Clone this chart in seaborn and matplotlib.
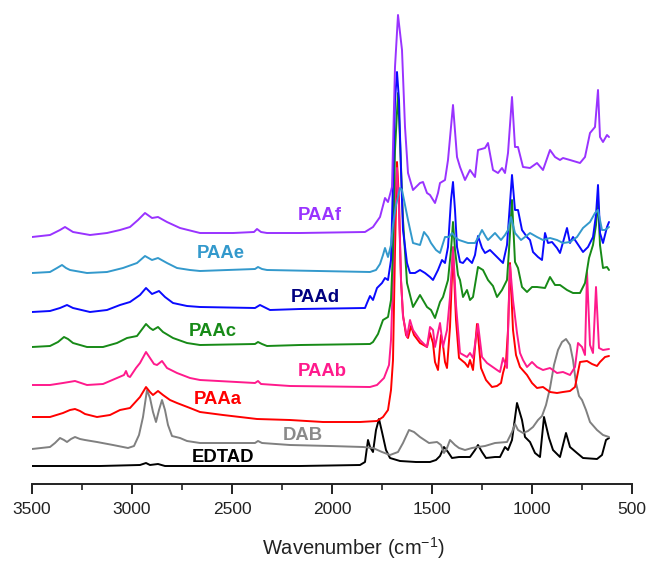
import matplotlib
matplotlib.use("Agg")
import matplotlib.pyplot as plt
import seaborn as sns
import pandas as pd
from matplotlib.ticker import MultipleLocator

# ---- data: (wavenumber cm-1, stacked absorbance a.u.) ----
EDTAD = [(3500, 0.18), (3160, 0.18), (2960, 0.19), (2930, 0.21), (2910, 0.19), (2870, 0.20),
         (2835, 0.18), (2410, 0.18), (2160, 0.18), (1860, 0.19), (1835, 0.22), (1820, 0.44),
         (1810, 0.37), (1795, 0.32), (1780, 0.54), (1765, 0.65), (1750, 0.52), (1730, 0.34),
         (1710, 0.26), (1660, 0.23), (1580, 0.22), (1510, 0.22), (1480, 0.24), (1460, 0.28),
         (1440, 0.37), (1420, 0.32), (1400, 0.26), (1365, 0.27), (1310, 0.27), (1285, 0.34),
         (1270, 0.39), (1250, 0.32), (1230, 0.26), (1185, 0.27), (1160, 0.27), (1135, 0.37),
         (1120, 0.34), (1100, 0.44), (1075, 0.81), (1050, 0.64), (1035, 0.47), (1010, 0.42),
         (985, 0.31), (960, 0.27), (940, 0.67), (915, 0.46), (895, 0.34), (860, 0.27),
         (830, 0.51), (810, 0.37), (775, 0.31), (745, 0.26), (675, 0.25), (650, 0.29),
         (630, 0.44), (615, 0.46)]

DAB = [(3500, 0.35), (3410, 0.37), (3385, 0.41), (3360, 0.46), (3340, 0.44), (3325, 0.42),
       (3305, 0.45), (3285, 0.47), (3260, 0.45), (3235, 0.44), (3175, 0.42), (3095, 0.39),
       (3020, 0.36), (2990, 0.38), (2965, 0.49), (2945, 0.67), (2925, 0.94), (2910, 0.86),
       (2895, 0.72), (2880, 0.62), (2865, 0.74), (2850, 0.84), (2835, 0.74), (2820, 0.59),
       (2800, 0.48), (2760, 0.46), (2725, 0.43), (2660, 0.41), (2385, 0.41), (2370, 0.43),
       (2350, 0.41), (2210, 0.39), (2010, 0.38), (1845, 0.37), (1795, 0.36), (1750, 0.32),
       (1710, 0.29), (1670, 0.32), (1645, 0.41), (1615, 0.54), (1590, 0.52), (1560, 0.47),
       (1515, 0.41), (1475, 0.42), (1455, 0.39), (1440, 0.31), (1425, 0.36), (1410, 0.44),
       (1385, 0.39), (1365, 0.36), (1335, 0.34), (1300, 0.36), (1270, 0.37), (1235, 0.38),
       (1185, 0.41), (1125, 0.42), (1100, 0.52), (1085, 0.60), (1070, 0.54), (1045, 0.51),
       (1020, 0.53), (995, 0.57), (970, 0.64), (950, 0.68), (930, 0.79), (910, 0.96),
       (890, 1.19), (870, 1.34), (850, 1.42), (830, 1.45), (810, 1.39), (795, 1.24),
       (780, 1.01), (765, 0.88), (750, 0.84), (730, 0.74), (710, 0.62), (675, 0.54),
       (645, 0.49), (615, 0.47)]

PAAa = [(3500, 0.67), (3410, 0.67), (3345, 0.71), (3310, 0.74), (3285, 0.75), (3260, 0.73),
        (3235, 0.70), (3175, 0.67), (3110, 0.69), (3060, 0.74), (3010, 0.76), (2960, 0.87),
        (2930, 0.97), (2910, 0.92), (2895, 0.89), (2870, 0.93), (2845, 0.89), (2810, 0.84),
        (2775, 0.81), (2710, 0.76), (2660, 0.72), (2545, 0.69), (2375, 0.65), (2210, 0.64),
        (2045, 0.62), (1860, 0.62), (1775, 0.63), (1745, 0.67), (1720, 0.74), (1705, 0.94),
        (1695, 1.24), (1685, 2.34), (1675, 3.22), (1665, 2.84), (1655, 2.04), (1645, 1.69),
        (1630, 1.49), (1620, 1.46), (1605, 1.58), (1590, 1.49), (1560, 1.41), (1525, 1.37),
        (1510, 1.51), (1495, 1.41), (1485, 1.22), (1470, 1.14), (1455, 1.49), (1445, 1.39),
        (1435, 1.22), (1425, 1.16), (1410, 1.57), (1395, 2.34), (1380, 1.64), (1365, 1.26),
        (1335, 1.21), (1320, 1.17), (1310, 1.24), (1295, 1.14), (1275, 1.60), (1255, 1.16),
        (1230, 1.04), (1200, 0.97), (1175, 0.98), (1155, 1.01), (1145, 1.11), (1130, 1.22),
        (1120, 1.54), (1110, 2.21), (1095, 1.54), (1080, 1.29), (1060, 1.17), (1025, 1.09),
        (1000, 1.01), (975, 0.96), (945, 0.97), (910, 0.92), (875, 0.91), (845, 0.92),
        (810, 0.93), (785, 0.97), (770, 1.12), (760, 1.22), (725, 1.23), (700, 1.20),
        (675, 1.18), (660, 1.22), (635, 1.27), (615, 1.28)]

PAAb = [(3500, 0.99), (3410, 0.99), (3345, 1.01), (3285, 1.03), (3225, 0.99), (3145, 1.00),
        (3075, 1.06), (3040, 1.09), (3030, 1.13), (3020, 1.08), (3010, 1.07), (2980, 1.16),
        (2960, 1.21), (2930, 1.32), (2910, 1.26), (2890, 1.20), (2875, 1.19), (2850, 1.23),
        (2825, 1.16), (2775, 1.11), (2710, 1.06), (2660, 1.04), (2385, 1.01), (2370, 1.03),
        (2355, 1.00), (2210, 0.98), (1810, 0.97), (1775, 0.99), (1740, 1.06), (1715, 1.19),
        (1705, 1.44), (1695, 2.04), (1685, 2.84), (1675, 3.16), (1665, 2.74), (1655, 2.04),
        (1645, 1.67), (1625, 1.47), (1610, 1.64), (1595, 1.54), (1560, 1.44), (1525, 1.37),
        (1510, 1.57), (1495, 1.54), (1485, 1.37), (1460, 1.61), (1445, 1.37), (1425, 1.54),
        (1410, 1.87), (1395, 2.37), (1380, 1.79), (1360, 1.31), (1325, 1.27), (1310, 1.31),
        (1295, 1.26), (1270, 1.60), (1250, 1.27), (1225, 1.21), (1175, 1.14), (1160, 1.12),
        (1145, 1.26), (1125, 1.16), (1110, 2.19), (1095, 1.84), (1075, 1.51), (1060, 1.31),
        (1045, 1.24), (1025, 1.17), (1000, 1.22), (975, 1.17), (945, 1.14), (910, 1.16),
        (875, 1.11), (845, 1.12), (810, 1.09), (785, 1.17), (770, 1.41), (750, 1.37),
        (735, 1.29), (725, 2.12), (710, 1.39), (695, 1.31), (680, 1.97), (665, 1.36),
        (645, 1.34), (615, 1.35)]

PAAc = [(3500, 1.37), (3410, 1.38), (3370, 1.42), (3340, 1.47), (3320, 1.45), (3295, 1.41),
        (3225, 1.37), (3145, 1.37), (3075, 1.41), (3025, 1.46), (2975, 1.48), (2930, 1.60),
        (2910, 1.56), (2895, 1.54), (2870, 1.57), (2845, 1.52), (2795, 1.46), (2725, 1.41),
        (2660, 1.39), (2385, 1.40), (2370, 1.42), (2350, 1.40), (2325, 1.38), (2160, 1.39),
        (1810, 1.40), (1795, 1.42), (1770, 1.50), (1745, 1.64), (1720, 1.67), (1705, 1.84),
        (1695, 2.34), (1685, 3.34), (1670, 3.91), (1660, 3.44), (1645, 2.64), (1625, 2.01),
        (1595, 1.77), (1560, 1.89), (1525, 1.77), (1505, 1.74), (1485, 1.66), (1460, 1.82),
        (1445, 1.87), (1420, 2.04), (1405, 2.34), (1395, 2.62), (1385, 2.34), (1370, 2.09),
        (1360, 2.04), (1345, 1.87), (1325, 1.94), (1310, 1.84), (1295, 1.87), (1270, 2.17),
        (1245, 2.14), (1220, 2.04), (1195, 1.98), (1175, 1.87), (1150, 1.94), (1125, 2.04),
        (1115, 2.34), (1100, 2.84), (1085, 2.22), (1070, 2.16), (1050, 1.97), (1025, 1.92),
        (1000, 1.97), (975, 1.97), (935, 1.96), (910, 2.07), (885, 1.99), (860, 1.99),
        (825, 1.94), (795, 1.91), (760, 1.91), (735, 2.01), (715, 2.26), (695, 2.39),
        (680, 2.59), (670, 2.84), (660, 2.39), (645, 2.16), (625, 2.17), (615, 2.14)]

PAAd = [(3500, 1.72), (3410, 1.73), (3360, 1.76), (3325, 1.79), (3295, 1.76), (3210, 1.72),
        (3125, 1.74), (3060, 1.79), (3010, 1.82), (2960, 1.89), (2930, 1.96), (2900, 1.90),
        (2865, 1.93), (2835, 1.87), (2795, 1.81), (2725, 1.78), (2660, 1.77), (2385, 1.76),
        (2360, 1.79), (2310, 1.74), (2160, 1.75), (1835, 1.76), (1825, 1.81), (1810, 1.88),
        (1795, 1.84), (1775, 1.96), (1750, 2.01), (1735, 2.06), (1720, 2.04), (1705, 2.24),
        (1695, 3.04), (1685, 3.84), (1675, 4.12), (1665, 3.84), (1655, 3.14), (1645, 2.54),
        (1625, 2.21), (1610, 2.11), (1585, 2.11), (1560, 2.14), (1535, 2.11), (1510, 2.07),
        (1495, 2.04), (1470, 2.14), (1450, 2.24), (1435, 2.21), (1420, 2.37), (1405, 2.84),
        (1395, 3.02), (1385, 2.74), (1375, 2.37), (1360, 2.22), (1345, 2.21), (1325, 2.26),
        (1300, 2.21), (1285, 2.29), (1270, 2.48), (1250, 2.36), (1235, 2.31), (1210, 2.34),
        (1175, 2.27), (1145, 2.21), (1125, 2.39), (1110, 2.81), (1100, 3.09), (1085, 2.74),
        (1070, 2.74), (1050, 2.54), (1025, 2.47), (1010, 2.44), (995, 2.32), (970, 2.27),
        (950, 2.24), (935, 2.51), (920, 2.41), (900, 2.42), (875, 2.36), (860, 2.31),
        (825, 2.56), (810, 2.41), (795, 2.47), (775, 2.41), (745, 2.32), (720, 2.37),
        (695, 2.47), (680, 2.69), (670, 2.99), (660, 2.51), (645, 2.41), (625, 2.57),
        (615, 2.62)]

PAAe = [(3500, 2.11), (3410, 2.12), (3375, 2.16), (3350, 2.19), (3330, 2.16), (3310, 2.14),
        (3225, 2.11), (3125, 2.12), (3045, 2.16), (2975, 2.21), (2935, 2.28), (2900, 2.24),
        (2870, 2.26), (2825, 2.21), (2775, 2.16), (2710, 2.14), (2660, 2.13), (2385, 2.15),
        (2370, 2.17), (2350, 2.15), (2325, 2.14), (1810, 2.12), (1780, 2.14), (1760, 2.20),
        (1745, 2.29), (1735, 2.36), (1720, 2.27), (1705, 2.39), (1695, 2.59), (1680, 2.79),
        (1660, 2.96), (1650, 2.94), (1635, 2.79), (1620, 2.64), (1595, 2.41), (1560, 2.39),
        (1540, 2.52), (1520, 2.47), (1505, 2.41), (1480, 2.34), (1460, 2.31), (1435, 2.47),
        (1415, 2.47), (1400, 2.51), (1380, 2.46), (1365, 2.44), (1320, 2.41), (1285, 2.41),
        (1265, 2.48), (1250, 2.54), (1230, 2.47), (1220, 2.44), (1185, 2.51), (1155, 2.44),
        (1135, 2.49), (1120, 2.54), (1105, 2.67), (1085, 2.51), (1055, 2.44), (1035, 2.47),
        (1010, 2.51), (975, 2.47), (945, 2.44), (910, 2.46), (875, 2.44), (845, 2.41),
        (810, 2.42), (775, 2.47), (745, 2.56), (710, 2.62), (685, 2.71), (670, 2.74),
        (650, 2.54), (635, 2.54), (615, 2.57)]

PAAf = [(3500, 2.47), (3410, 2.49), (3360, 2.54), (3335, 2.57), (3295, 2.52), (3210, 2.49),
        (3125, 2.51), (3060, 2.54), (3010, 2.57), (2970, 2.64), (2935, 2.71), (2900, 2.66),
        (2870, 2.67), (2825, 2.62), (2760, 2.56), (2660, 2.51), (2495, 2.51), (2390, 2.52),
        (2375, 2.55), (2355, 2.52), (2325, 2.51), (2160, 2.51), (1835, 2.52), (1795, 2.57),
        (1760, 2.67), (1735, 2.86), (1720, 2.82), (1700, 2.97), (1685, 4.17), (1670, 4.69),
        (1650, 4.34), (1635, 3.57), (1620, 3.11), (1595, 2.94), (1560, 3.01), (1545, 3.02),
        (1525, 2.91), (1510, 2.89), (1485, 2.81), (1470, 2.91), (1460, 3.01), (1435, 3.04),
        (1420, 3.24), (1395, 3.79), (1375, 3.27), (1360, 3.17), (1335, 3.04), (1310, 3.14),
        (1285, 3.07), (1270, 3.34), (1235, 3.36), (1220, 3.41), (1195, 3.14), (1170, 3.11),
        (1150, 3.16), (1135, 3.11), (1120, 3.31), (1100, 3.87), (1085, 3.37), (1070, 3.37),
        (1045, 3.17), (1010, 3.16), (975, 3.21), (945, 3.14), (910, 3.34), (885, 3.27),
        (860, 3.24), (845, 3.26), (810, 3.24), (760, 3.21), (735, 3.27), (710, 3.51),
        (685, 3.57), (670, 3.94), (660, 3.47), (645, 3.42), (625, 3.49), (615, 3.47)]

names = ["EDTAD", "DAB", "PAAa", "PAAb", "PAAc", "PAAd", "PAAe", "PAAf"]
spectra = [EDTAD, DAB, PAAa, PAAb, PAAc, PAAd, PAAe, PAAf]
line_colors = ["#000000", "#808080", "#ff0000", "#ff1a8c", "#178a17", "#0a0aff", "#3399cc", "#9933ff"]
label_colors = ["#000000", "#8a8a8a", "#ff0000", "#ff1a8c", "#178a17", "#000080", "#3399cc", "#9933ff"]
label_wn = [2545, 2145, 2570, 2050, 2595, 2085, 2555, 2060]
label_y = [0.27, 0.49, 0.84, 1.12, 1.53, 1.87, 2.31, 2.69]

# ---- build long table ----
rows = []
for n, s in zip(names, spectra):
    for wn, a in s:
        rows.append({"series": n, "wn": wn, "abs": a})
df = pd.DataFrame(rows)

sns.set_style("white")
plt.rcParams["font.family"] = ["Liberation Sans", "DejaVu Sans"]
plt.rcParams["mathtext.default"] = "regular"

fig = plt.figure(figsize=(6.49, 5.63), dpi=100)
ax = fig.add_axes([32 / 649, 79 / 563, 600 / 649, 484 / 563])

for n, c in zip(names, line_colors):
    sub = df[df["series"] == n]
    sns.lineplot(data=sub, x="wn", y="abs", ax=ax, color=c, lw=1.4,
                 sort=False, estimator=None, legend=False)

for n, c, xw, yv in zip(names, label_colors, label_wn, label_y):
    ax.text(xw, yv, n, color=c, fontsize=13.3, fontweight="bold",
            ha="center", va="center")

ax.set_xlim(3500, 500)
ax.set_ylim(0, 4.84)
ax.set_yticks([])
ax.set_ylabel("")
for sp in ["top", "left", "right"]:
    ax.spines[sp].set_visible(False)
ax.spines["bottom"].set_linewidth(1.4)
ax.spines["bottom"].set_color("#222222")
ax.xaxis.set_major_locator(MultipleLocator(500))
ax.xaxis.set_minor_locator(MultipleLocator(250))
ax.tick_params(axis="x", which="major", direction="out", length=7, width=1.4,
               color="#222222", labelsize=12.5, pad=6, labelcolor="#222222", bottom=True)
ax.tick_params(axis="x", which="minor", direction="out", length=4, width=1.2,
               color="#222222", bottom=True)
ax.set_xlabel("Wavenumber (cm$^{-1}$)", fontsize=14.5, color="#222222", labelpad=13)
ax.xaxis.label.set_x(0.535)

fig.savefig("out.png", dpi=100)
